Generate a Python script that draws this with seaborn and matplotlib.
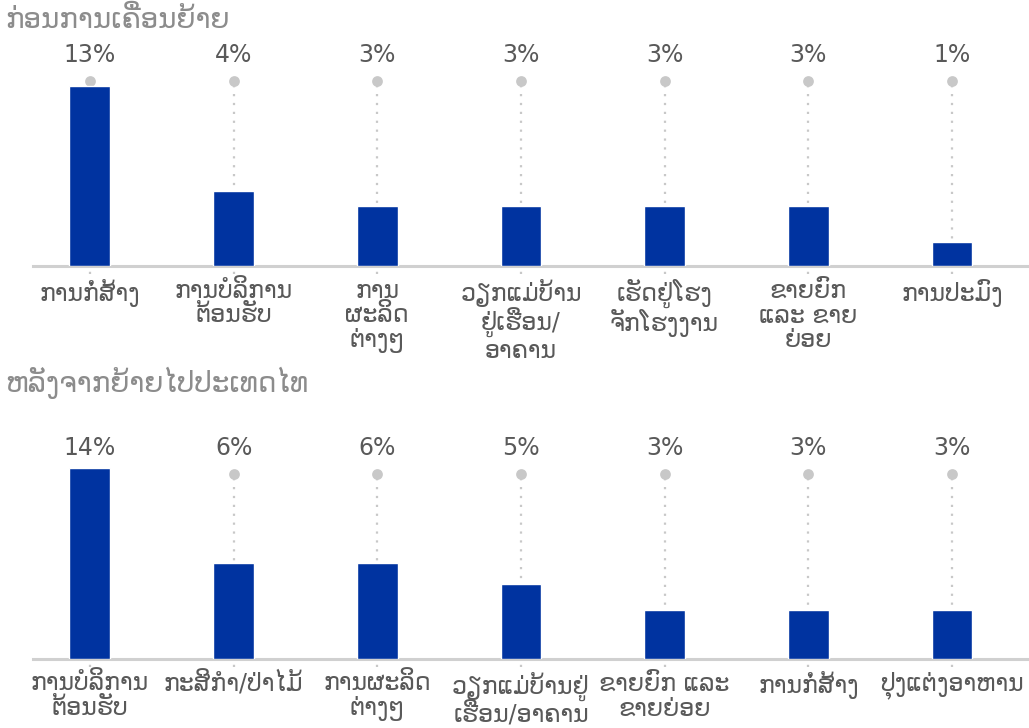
import matplotlib
matplotlib.use("Agg")
import matplotlib.pyplot as plt
import seaborn as sns

# before migration
before_titles = "ກ່ອນການເຄື່ອນຍ້າຍ"
before_cats = ["ການກໍ່ສ້າງ", "ການບໍລິການ\nຕ້ອນຮັບ", "ການ\nຜະລິດ\nຕ່າງໆ",
               "ວຽກແມ່ບ້ານ\nຢູ່ເຮືອນ/\nອາຄານ", "ເຮັດຢູ່ໂຮງ\nຈັກໂຮງງານ",
               "ຂາຍຍົກ\nແລະ ຂາຍ\nຍ່ອຍ", "ການປະມົງ"]
before_vals = [13.0, 5.4, 4.3, 4.3, 4.3, 4.3, 1.7]
before_pct = ["13%", "4%", "3%", "3%", "3%", "3%", "1%"]

# after moving to Thailand
after_title = "ຫລັງຈາກຍ້າຍໄປປະເທດໄທ"
after_cats = ["ການບໍລິການ\nຕ້ອນຮັບ", "ກະສິກຳ/ປ່າໄມ້", "ການຜະລິດ\nຕ່າງໆ",
              "ວຽກແມ່ບ້ານຢູ່\nເຮືອນ/ອາຄານ", "ຂາຍຍົກ ແລະ\nຂາຍຍ່ອຍ",
              "ການກໍ່ສ້າງ", "ປຸງແຕ່ງອາຫານ"]
after_vals = [13.8, 6.9, 6.9, 5.4, 3.5, 3.5, 3.5]
after_pct = ["14%", "6%", "6%", "5%", "3%", "3%", "3%"]

BAR = "#0033a0"
GREY = "#c8c8c8"
DOT_Y = 13.36
LABEL_Y = 15.2
YMAX = 16.3

sns.set_theme(style="white")
plt.rcParams['font.family'] = ['DejaVu Sans']


def draw_panel(ax, cats, vals, pct):
    n = len(cats)
    # dotted leader lines behind the bars
    for i in range(n):
        ax.plot([i, i], [-0.6, DOT_Y], color=GREY, linestyle=(0, (1, 3)),
                linewidth=1.6, zorder=1, clip_on=False)
    ax.scatter(range(n), [DOT_Y] * n, s=60, color=GREY, zorder=2, linewidths=0)
    sns.barplot(x=cats, y=vals, color=BAR, width=0.285, saturation=1,
                ax=ax, zorder=3)
    for i, t in enumerate(pct):
        ax.text(i, LABEL_Y, t, ha='center', va='center', fontsize=17,
                color='#595959')
    ax.set_xlim(-0.397, n - 1 + 0.536)
    ax.set_ylim(0, YMAX)
    ax.set_yticks([])
    ax.set_ylabel('')
    ax.tick_params(axis='x', length=0, pad=9, labelsize=17,
                   labelcolor='#595959')
    for lab in ax.get_xticklabels():
        lab.set_linespacing(1.05)
    for s in ['top', 'right', 'left']:
        ax.spines[s].set_visible(False)
    ax.spines['bottom'].set_color('#d0d0d0')
    ax.spines['bottom'].set_linewidth(2.2)
    ax.patch.set_alpha(0)


fig = plt.figure(figsize=(10.29, 7.28), dpi=100)
ax1 = fig.add_axes([0.032, 0.6346, 0.968, 0.3104])
ax2 = fig.add_axes([0.032, 0.0948, 0.968, 0.3104])

draw_panel(ax1, before_cats, before_vals, before_pct)
draw_panel(ax2, after_cats, after_vals, after_pct)

fig.text(5 / 1029, 1 - 20 / 728, before_titles, fontsize=20, color='#8c8c8c',
         va='center', ha='left')
fig.text(5 / 1029, 1 - 383 / 728, after_title, fontsize=20, color='#8c8c8c',
         va='center', ha='left')

fig.savefig("out.png", dpi=100, facecolor='white')
